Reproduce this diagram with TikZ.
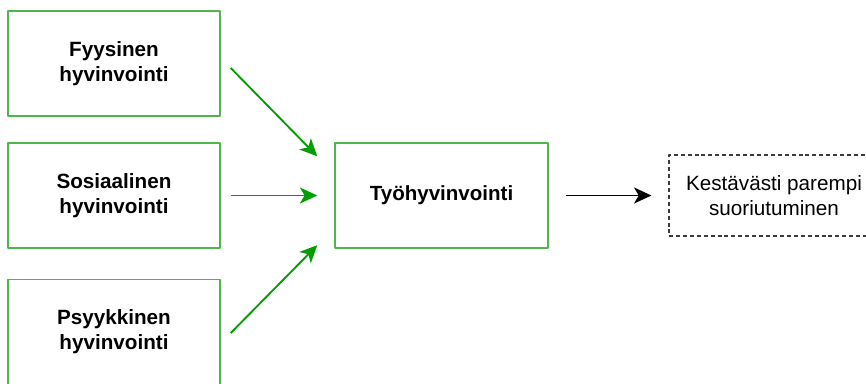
\documentclass[tikz,border=0pt]{standalone}
\usepackage{fontspec}
\setmainfont{Liberation Sans}
\usepackage{xcolor}
\usepackage{tikz}
\usetikzlibrary{arrows.meta,positioning}
\definecolor{boxgreen}{RGB}{76,184,76}
\definecolor{arrowgreen}{RGB}{0,158,0}
\definecolor{dashgray}{RGB}{60,60,60}

\begin{document}
\begin{tikzpicture}[x=0.75pt, y=-0.75pt, line join=round,
    wellbox/.style={draw=boxgreen, line width=1.1pt, fill=white, minimum width=212*0.75pt, minimum height=105*0.75pt, align=center, font=\fontsize{15.5}{18.7}\selectfont\bfseries},
    goalbox/.style={draw=dashgray, line width=0.9pt, dash pattern=on 3pt off 2.2pt, minimum width=210*0.75pt, minimum height=81*0.75pt, align=center, font=\fontsize{15.5}{18.7}\selectfont},
    greenarrow/.style={arrowgreen, line width=1.4pt, -{Stealth[length=13pt,width=12pt,inset=3.5pt]}},
    blackarrow/.style={black, line width=1.4pt, -{Stealth[length=13pt,width=12pt,inset=3.5pt]}}]
    \useasboundingbox (0,0) rectangle (866,383);

    % the three sides of wellbeing
    \node[wellbox] (fyys) at (114,63.5) {Fyysinen\\hyvinvointi};
    \node[wellbox] (sos) at (114,195.5) {Sosiaalinen\\hyvinvointi};
    \node[wellbox] (psyk) at (114,332) {Psyykkinen\\hyvinvointi};

    % work wellbeing and its outcome
    \node[wellbox, minimum width=213*0.75pt, font=\fontsize{15.4}{18}\selectfont\bfseries] (tyo) at (441.5,195.5) {Työhyvinvointi};
    \node[goalbox] (tulos) at (774,195.5) {Kestävästi parempi\\suoriutuminen};

    % arrows into the middle box
    \draw[greenarrow] ([shift={(10,4.5)}]fyys.east) -- ([shift={(-17,14)}]tyo.north west);
    \draw[greenarrow] ([xshift=10*0.75pt]sos.east) -- ([xshift=-17*0.75pt]tyo.west);
    \draw[greenarrow] ([shift={(10,1)}]psyk.east) -- ([shift={(-17,-3.5)}]tyo.south west);
    \draw[blackarrow] ([xshift=17*0.75pt]tyo.east) -- ([xshift=-17*0.75pt]tulos.west);
\end{tikzpicture}
\end{document}
